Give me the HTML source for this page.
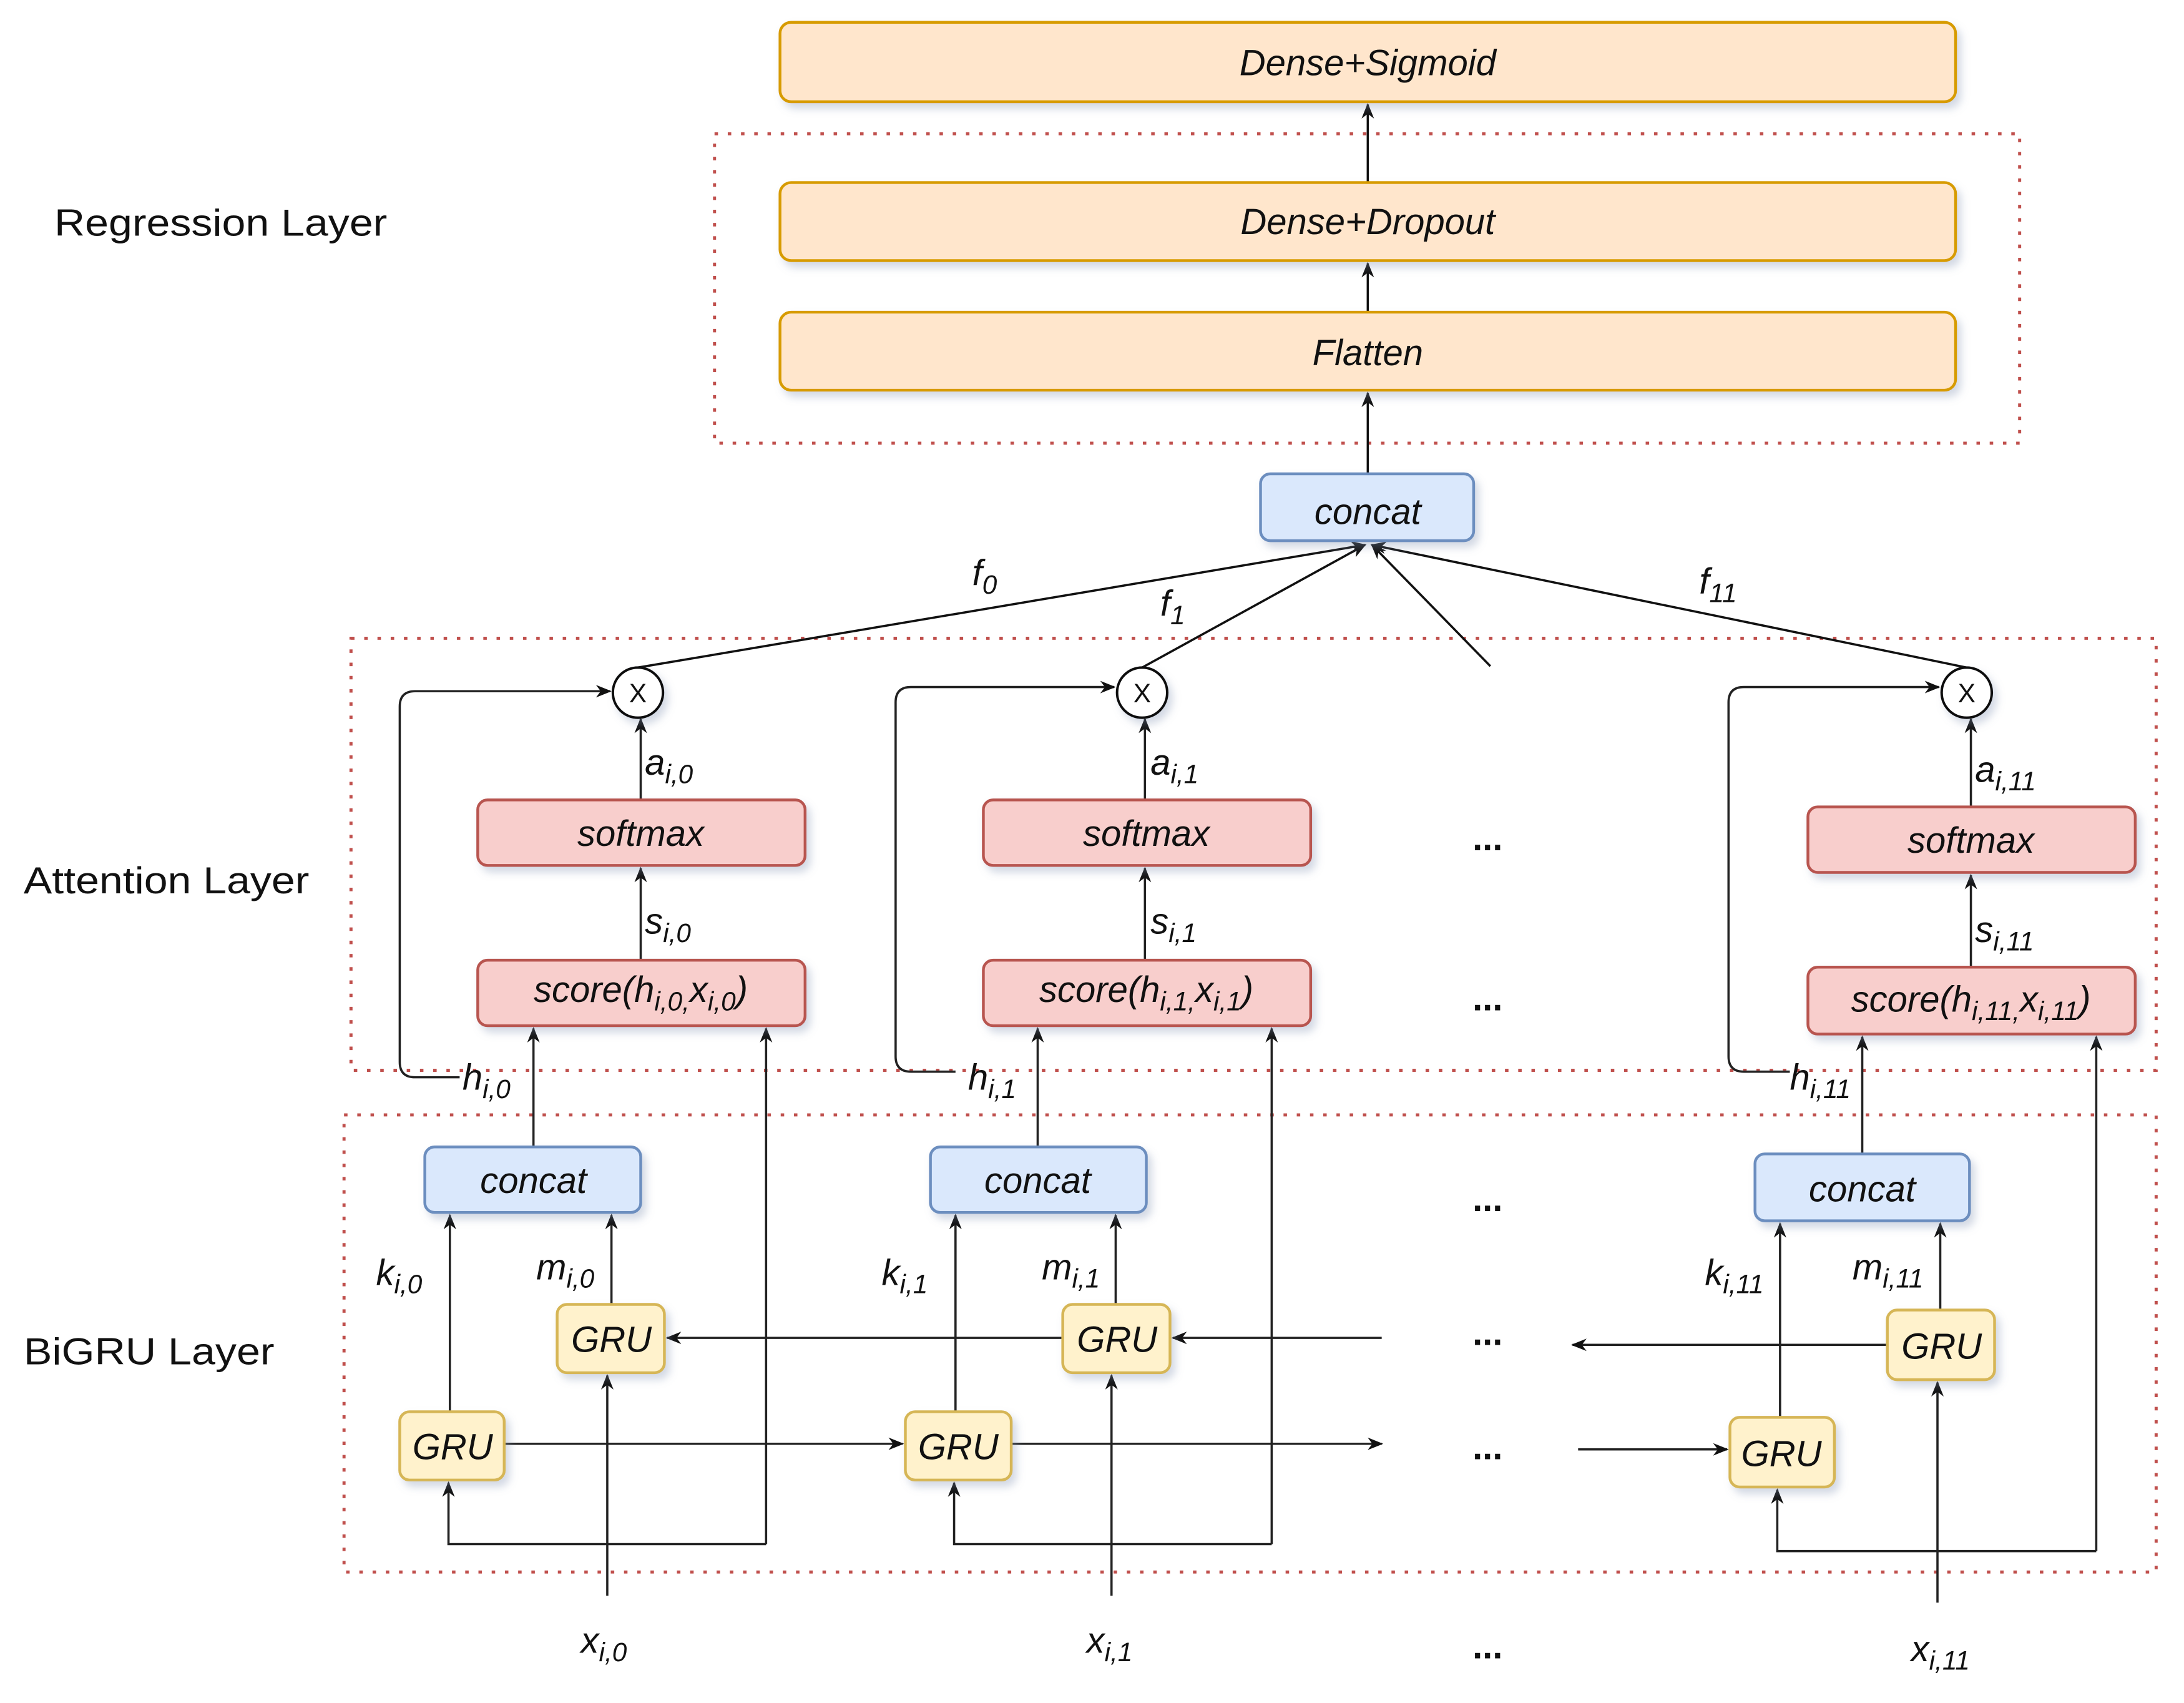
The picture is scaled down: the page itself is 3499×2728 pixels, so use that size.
<!DOCTYPE html>
<html><head><meta charset="utf-8"><style>
html,body{margin:0;padding:0;background:#fff;}
svg{display:block;}
text{font-family:"Liberation Sans",sans-serif;fill:#111;}
.it{font-style:italic;}
</style></head><body>
<svg width="3499" height="2728" viewBox="0 0 1568 1222" preserveAspectRatio="none" xmlns="http://www.w3.org/2000/svg">
<defs>
<marker id="a" viewBox="0 0 10 10" refX="9" refY="5" markerWidth="7" markerHeight="7" orient="auto"><path d="M0,1 L10,5 L0,9 L3,5 z" fill="#111"/></marker>
<filter id="sh" x="-10%" y="-10%" width="130%" height="150%"><feDropShadow dx="3" dy="4" stdDeviation="3" flood-color="#8090b0" flood-opacity="0.35"/></filter>
</defs>
<g fill="none" stroke="#c0504d" stroke-width="2.2" stroke-dasharray="2.5,7">
<rect x="513" y="96" width="937" height="222"/>
<rect x="252" y="458" width="1296" height="310"/>
<rect x="247" y="800" width="1301" height="328"/>
</g>
<g stroke="#111" stroke-width="1.6" fill="none" marker-end="url(#a)">
<line x1="982" y1="131" x2="982" y2="75"/>
<line x1="982" y1="224" x2="982" y2="189"/>
<line x1="982" y1="340" x2="982" y2="282"/>
<line x1="458" y1="479" x2="980" y2="391"/>
<line x1="820" y1="479" x2="980" y2="391"/>
<line x1="1070" y1="478" x2="985" y2="391"/>
<line x1="1412" y1="479" x2="985" y2="391"/>
</g>
<g stroke="#222" stroke-width="1.6" fill="none" marker-end="url(#a)">
<line x1="460" y1="574" x2="460" y2="516"/>
<line x1="460" y1="689" x2="460" y2="623"/>
<line x1="383" y1="823" x2="383" y2="738"/>
<line x1="323" y1="1013" x2="323" y2="872"/>
<line x1="439" y1="936" x2="439" y2="872"/>
<line x1="436" y1="1145" x2="436" y2="987"/>
<path d="M550,1108 L550,738"/>
<path d="M550,1108 L322,1108 L322,1064"/>
<path d="M330,773 L298,773 Q287,773 287,762 L287,507 Q287,496 298,496 L438,496"/>
<line x1="362" y1="1036" x2="648" y2="1036"/>
<line x1="763" y1="960" x2="479" y2="960"/>
<line x1="822" y1="574" x2="822" y2="516"/>
<line x1="822" y1="689" x2="822" y2="623"/>
<line x1="745" y1="823" x2="745" y2="738"/>
<line x1="686" y1="1013" x2="686" y2="872"/>
<line x1="801" y1="936" x2="801" y2="872"/>
<line x1="798" y1="1145" x2="798" y2="987"/>
<path d="M913,1108 L913,738"/>
<path d="M913,1108 L685,1108 L685,1064"/>
<path d="M686,769 L654,769 Q643,769 643,758 L643,504 Q643,493 654,493 L800,493"/>
<line x1="726" y1="1036" x2="992" y2="1036"/>
<line x1="992" y1="960" x2="842" y2="960"/>
<line x1="1415" y1="579" x2="1415" y2="516"/>
<line x1="1415" y1="694" x2="1415" y2="628"/>
<line x1="1337" y1="828" x2="1337" y2="744"/>
<line x1="1278" y1="1017" x2="1278" y2="878"/>
<line x1="1393" y1="940" x2="1393" y2="878"/>
<line x1="1391" y1="1150" x2="1391" y2="992"/>
<path d="M1505,1113 L1505,744"/>
<path d="M1505,1113 L1276,1113 L1276,1069"/>
<path d="M1285,769 L1252,769 Q1241,769 1241,758 L1241,504 Q1241,493 1252,493 L1392,493"/>
<line x1="1133" y1="1040" x2="1240" y2="1040"/>
<line x1="1355" y1="965" x2="1129" y2="965"/>
</g>
<g filter="url(#sh)">
<g fill="#ffe6cc" stroke="#d79b00" stroke-width="2">
<rect x="560" y="16" width="844" height="57" rx="8"/>
<rect x="560" y="131" width="844" height="56" rx="8"/>
<rect x="560" y="224" width="844" height="56" rx="8"/>
</g>
<g fill="#dae8fc" stroke="#6c8ebf" stroke-width="2">
<rect x="905" y="340" width="153" height="48" rx="7"/>
<rect x="305" y="823" width="155" height="47" rx="7"/>
<rect x="668" y="823" width="155" height="47" rx="7"/>
<rect x="1260" y="828" width="154" height="48" rx="7"/>
</g>
<g fill="#f8cecc" stroke="#b85450" stroke-width="2">
<rect x="343" y="574" width="235" height="47" rx="7"/>
<rect x="706" y="574" width="235" height="47" rx="7"/>
<rect x="1298" y="579" width="235" height="47" rx="7"/>
<rect x="343" y="689" width="235" height="47" rx="7"/>
<rect x="706" y="689" width="235" height="47" rx="7"/>
<rect x="1298" y="694" width="235" height="48" rx="7"/>
</g>
<g fill="#fff2cc" stroke="#d6b656" stroke-width="2">
<rect x="400" y="936" width="77" height="49" rx="7"/>
<rect x="763" y="936" width="77" height="49" rx="7"/>
<rect x="1355" y="940" width="77" height="50" rx="7"/>
<rect x="287" y="1013" width="75" height="49" rx="7"/>
<rect x="650" y="1013" width="76" height="49" rx="7"/>
<rect x="1242" y="1017" width="75" height="50" rx="7"/>
</g>
<g fill="#fff" stroke="#111" stroke-width="1.8">
<circle cx="458" cy="497" r="18"/>
<circle cx="820" cy="497" r="18"/>
<circle cx="1412" cy="497" r="18"/>
</g>
</g>
<g font-size="19" text-anchor="middle">
<text x="458" y="504">X</text><text x="820" y="504">X</text><text x="1412" y="504">X</text>
</g>
<g class="it" font-size="26" text-anchor="middle">
<text x="982" y="54">Dense+Sigmoid</text>
<text x="982" y="168">Dense+Dropout</text>
<text x="982" y="262">Flatten</text>
<text x="982" y="376">concat</text>
<text x="383" y="856">concat</text>
<text x="745" y="856">concat</text>
<text x="1337" y="862">concat</text>
<text x="460" y="607">softmax</text>
<text x="823" y="607">softmax</text>
<text x="1415" y="612">softmax</text>
<text x="439" y="970">GRU</text><text x="802" y="970">GRU</text><text x="1394" y="975">GRU</text>
<text x="325" y="1047">GRU</text><text x="688" y="1047">GRU</text><text x="1279" y="1052">GRU</text>
<text x="460" y="719">score(h<tspan font-size="19" dy="6">i,0,</tspan><tspan dy="-6">x</tspan><tspan font-size="19" dy="6">i,0</tspan><tspan dy="-6">)</tspan></text>
<text x="823" y="719">score(h<tspan font-size="19" dy="6">i,1,</tspan><tspan dy="-6">x</tspan><tspan font-size="19" dy="6">i,1</tspan><tspan dy="-6">)</tspan></text>
<text x="1415" y="726">score(h<tspan font-size="19" dy="6">i,11,</tspan><tspan dy="-6">x</tspan><tspan font-size="19" dy="6">i,11</tspan><tspan dy="-6">)</tspan></text>
</g>
<g class="it" font-size="26">
<text x="698" y="420">f<tspan font-size="19" dy="6">0</tspan></text>
<text x="833" y="442">f<tspan font-size="19" dy="6">1</tspan></text>
<text x="1220" y="426">f<tspan font-size="19" dy="6">11</tspan></text>
<text x="463" y="556">a<tspan font-size="19" dy="6">i,0</tspan></text>
<text x="826" y="556">a<tspan font-size="19" dy="6">i,1</tspan></text>
<text x="1418" y="561">a<tspan font-size="19" dy="6">i,11</tspan></text>
<text x="463" y="670">s<tspan font-size="19" dy="6">i,0</tspan></text>
<text x="826" y="670">s<tspan font-size="19" dy="6">i,1</tspan></text>
<text x="1418" y="676">s<tspan font-size="19" dy="6">i,11</tspan></text>
<text x="332" y="782">h<tspan font-size="19" dy="6">i,0</tspan></text>
<text x="695" y="782">h<tspan font-size="19" dy="6">i,1</tspan></text>
<text x="1285" y="782">h<tspan font-size="19" dy="6">i,11</tspan></text>
<text x="270" y="922">k<tspan font-size="19" dy="6">i,0</tspan></text>
<text x="633" y="922">k<tspan font-size="19" dy="6">i,1</tspan></text>
<text x="1224" y="922">k<tspan font-size="19" dy="6">i,11</tspan></text>
<text x="385" y="918">m<tspan font-size="19" dy="6">i,0</tspan></text>
<text x="748" y="918">m<tspan font-size="19" dy="6">i,1</tspan></text>
<text x="1330" y="918">m<tspan font-size="19" dy="6">i,11</tspan></text>
<text x="417" y="1186">x<tspan font-size="19" dy="6">i,0</tspan></text>
<text x="780" y="1186">x<tspan font-size="19" dy="6">i,1</tspan></text>
<text x="1372" y="1192">x<tspan font-size="19" dy="6">i,11</tspan></text>
</g>
<g font-size="26" font-weight="bold" text-anchor="middle">
<text x="1068" y="610">...</text><text x="1068" y="725">...</text><text x="1068" y="869">...</text>
<text x="1068" y="965">...</text><text x="1068" y="1047">...</text><text x="1068" y="1190">...</text>
</g>
<g font-size="27">
<text x="39" y="169" textLength="239" lengthAdjust="spacingAndGlyphs">Regression Layer</text>
<text x="17" y="641" textLength="205" lengthAdjust="spacingAndGlyphs">Attention Layer</text>
<text x="17" y="979" textLength="180" lengthAdjust="spacingAndGlyphs">BiGRU Layer</text>
</g>
</svg>
</body></html>
